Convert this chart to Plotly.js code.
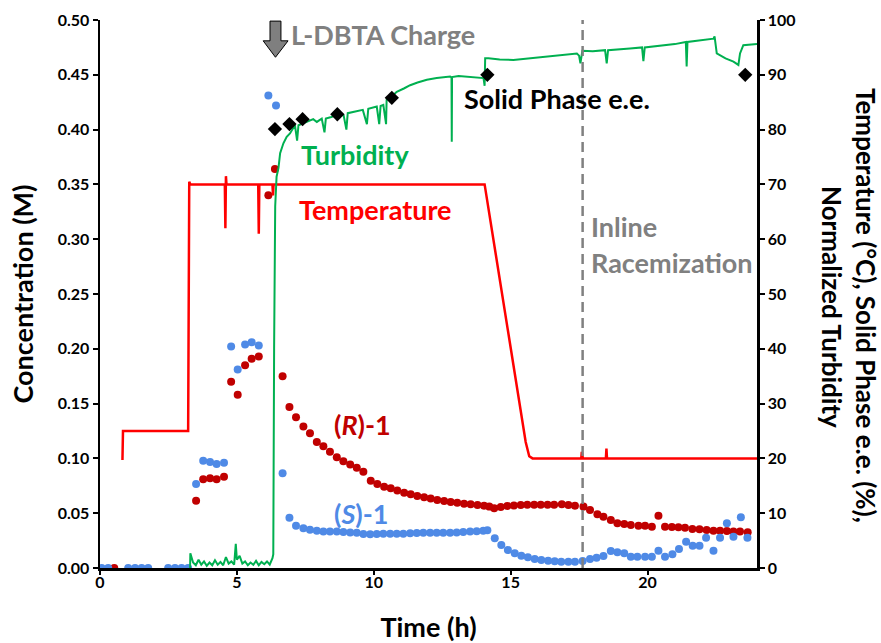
<!DOCTYPE html>
<html>
<head>
<meta charset="utf-8">
<script src="https://cdn.plot.ly/plotly-3.0.1.min.js"></script>
<style>html,body{margin:0;padding:0;background:#fff;}</style>
</head>
<body>
<div id="chart" style="width:881px;height:643px;"></div>
<script>
// ---- Data ----
const rTime = [0.52, 3.51, 3.77, 4.02, 4.26, 4.53, 4.79, 5.03, 5.30, 5.54, 5.80, 6.15, 6.39, 6.67, 6.92, 7.16, 7.43, 7.67, 7.92, 8.16, 8.40, 8.65, 8.89, 9.14, 9.38, 9.62, 9.89, 10.13, 10.38, 10.62, 10.86, 11.11, 11.35, 11.59, 11.84, 12.08, 12.32, 12.57, 12.81, 13.05, 13.30, 13.54, 13.79, 14.03, 14.22, 14.40, 14.64, 14.88, 15.12, 15.37, 15.61, 15.86, 16.10, 16.35, 16.59, 16.87, 17.11, 17.35, 17.66, 17.90, 18.17, 18.39, 18.66, 18.90, 19.15, 19.39, 19.67, 19.91, 20.16, 20.40, 20.64, 20.89, 21.13, 21.37, 21.64, 21.90, 22.16, 22.41, 22.65, 22.90, 23.14, 23.38, 23.66];
const rConc = [0.000, 0.0614, 0.0809, 0.0818, 0.0809, 0.0833, 0.170, 0.158, 0.185, 0.191, 0.193, 0.340, 0.364, 0.175, 0.147, 0.1375, 0.129, 0.123, 0.115, 0.111, 0.106, 0.101, 0.0975, 0.0945, 0.0915, 0.0879, 0.0797, 0.0766, 0.0742, 0.0727, 0.0706, 0.0687, 0.0672, 0.0657, 0.0645, 0.0633, 0.0620, 0.0611, 0.0602, 0.0596, 0.0587, 0.0581, 0.0575, 0.0569, 0.0560, 0.0545, 0.0557, 0.0566, 0.0570, 0.0574, 0.0577, 0.0578, 0.0578, 0.0578, 0.0578, 0.0581, 0.0575, 0.0569, 0.0560, 0.0529, 0.0490, 0.0468, 0.0438, 0.0408, 0.0401, 0.0392, 0.0386, 0.0386, 0.0377, 0.0477, 0.0377, 0.0374, 0.0371, 0.0368, 0.0356, 0.0353, 0.0347, 0.0341, 0.0341, 0.0338, 0.0332, 0.0332, 0.0326];

const sTime = [0.06, 0.30, 1.03, 1.28, 1.52, 1.76, 2.49, 2.74, 2.98, 3.22, 3.51, 3.77, 4.02, 4.26, 4.53, 4.79, 5.03, 5.30, 5.54, 5.80, 6.15, 6.43, 6.67, 6.92, 7.16, 7.43, 7.67, 7.92, 8.16, 8.40, 8.65, 8.89, 9.14, 9.38, 9.62, 9.87, 10.11, 10.35, 10.60, 10.84, 11.08, 11.33, 11.57, 11.81, 12.06, 12.30, 12.54, 12.79, 13.03, 13.27, 13.52, 13.76, 14.00, 14.15, 14.42, 14.66, 14.90, 15.15, 15.39, 15.63, 15.88, 16.12, 16.37, 16.61, 16.85, 17.11, 17.35, 17.63, 17.90, 18.14, 18.39, 18.66, 18.90, 19.15, 19.39, 19.63, 19.91, 20.16, 20.40, 20.64, 20.91, 21.15, 21.41, 21.65, 21.90, 22.14, 22.41, 22.65, 22.90, 23.14, 23.41, 23.65];
const sConc = [0, 0, 0, 0, 0, 0, 0, 0, 0, 0, 0.0766, 0.0979, 0.0967, 0.0949, 0.0961, 0.202, 0.181, 0.204, 0.206, 0.203, 0.431, 0.422, 0.0864, 0.0459, 0.0386, 0.0362, 0.0350, 0.0340, 0.0332, 0.0332, 0.0332, 0.0328, 0.0325, 0.0322, 0.0310, 0.0307, 0.0310, 0.0313, 0.0313, 0.0313, 0.0313, 0.0316, 0.0319, 0.0322, 0.0322, 0.0322, 0.0322, 0.0322, 0.0325, 0.0328, 0.0332, 0.0335, 0.0341, 0.0345, 0.0271, 0.0210, 0.0164, 0.0134, 0.0112, 0.0097, 0.0082, 0.0073, 0.0067, 0.0061, 0.0058, 0.0058, 0.0058, 0.0064, 0.0082, 0.0094, 0.0109, 0.0155, 0.0143, 0.0134, 0.0103, 0.0103, 0.0103, 0.0103, 0.0158, 0.0103, 0.0125, 0.0173, 0.0240, 0.0204, 0.0204, 0.0277, 0.0158, 0.0277, 0.0408, 0.0286, 0.0462, 0.0277];

const tempTime = [0.82, 0.84, 3.22, 3.24, 3.26, 3.30, 4.00, 4.56, 4.58, 4.60, 4.62, 4.64, 5.00, 5.78, 5.80, 5.82, 6.30, 6.32, 6.34, 14.05, 15.55, 15.68, 15.80, 17.58, 17.60, 17.62, 17.64, 18.48, 18.50, 18.52, 24.0];
const tempVal  = [19.7, 25.0, 25.0, 68.5, 70.5, 70.0, 70.0, 70.0, 62.0, 71.5, 70.0, 70.0, 70.0, 70.0, 61.0, 70.0, 70.0, 68.0, 70.0, 70.0, 23.0, 20.4, 20.0, 20.0, 21.2, 20.0, 20.0, 20.0, 21.8, 20.0, 20.0];

const turbTime = [3.29, 3.30, 3.40, 3.50, 3.60, 3.70, 3.80, 3.90, 4.00, 4.10, 4.20, 4.30, 4.40, 4.50, 4.60, 4.70, 4.80, 4.90, 4.96, 5.00, 5.10, 5.20, 5.30, 5.40, 5.50, 5.60, 5.70, 5.80, 5.90, 6.00, 6.10, 6.20, 6.30, 6.33, 6.36, 6.40, 6.45, 6.52, 6.58, 6.70, 6.82, 6.94, 7.12, 7.20, 7.25, 7.43, 7.60, 7.79, 7.92, 8.10, 8.20, 8.25, 8.45, 8.65, 8.90, 9.00, 9.05, 9.38, 9.60, 9.75, 9.80, 10.11, 10.20, 10.25, 10.35, 10.45, 10.47, 10.65, 10.84, 11.10, 11.33, 11.60, 11.94, 12.30, 12.79, 12.84, 12.85, 12.86, 13.10, 13.40, 13.70, 14.01, 14.05, 14.07, 14.19, 14.60, 15.10, 15.70, 16.32, 16.90, 17.42, 17.50, 17.55, 17.62, 18.00, 18.45, 18.51, 18.56, 19.00, 19.36, 19.80, 19.85, 19.90, 20.58, 21.00, 21.40, 21.43, 21.46, 22.00, 22.41, 22.45, 22.50, 22.53, 22.85, 23.14, 23.32, 23.38, 23.50, 23.93, 24.00];
const turbVal  = [0.0, 2.7, 1.0, 0.5, 1.5, 0.6, 1.2, 0.4, 1.0, 0.5, 1.4, 0.6, 1.1, 0.5, 2.0, 0.8, 1.2, 0.6, 4.4, 1.5, 2.2, 0.8, 1.2, 0.5, 1.0, 0.6, 1.3, 0.5, 1.1, 0.7, 1.2, 0.6, 1.8, 2.5, 40.0, 66.0, 71.4, 73.0, 75.7, 77.5, 78.7, 79.3, 80.8, 78.0, 80.8, 81.2, 81.5, 81.9, 81.4, 82.0, 79.5, 82.0, 82.3, 82.7, 82.6, 80.0, 83.0, 83.3, 83.6, 81.0, 83.8, 84.2, 81.0, 84.3, 84.5, 81.0, 85.4, 86.0, 86.9, 87.5, 88.1, 88.6, 89.1, 89.4, 89.7, 89.5, 77.8, 89.6, 89.8, 89.7, 89.6, 89.4, 88.0, 93.0, 93.0, 92.8, 92.7, 93.0, 93.3, 93.6, 93.9, 93.5, 92.1, 94.4, 94.3, 94.5, 92.1, 94.5, 94.6, 94.8, 95.0, 92.5, 95.0, 95.3, 95.6, 96.0, 91.5, 96.0, 96.3, 96.6, 97.0, 94.5, 93.9, 93.0, 92.4, 91.8, 93.9, 95.4, 95.6, 95.6];

const eeTime = [6.39, 6.92, 7.40, 8.67, 10.66, 14.15, 23.57];
const eeVal  = [80.1, 81.0, 81.9, 82.8, 85.8, 90.0, 90.0];

const xTicks = [0, 5, 10, 15, 20];

// ---- Styles ----
const FONT = 'Lato, "Open Sans", "DejaVu Sans", sans-serif';
const RED_DOT = '#C00000';
const BLUE_DOT = '#4F8AE6';
const TEMP_RED = '#FF0000';
const TURB_GREEN = '#00B050';
const GRAY = '#808080';

const traces = [
  { x: tempTime, y: tempVal, yaxis: 'y2', type: 'scatter', mode: 'lines',
    line: { color: TEMP_RED, width: 2.5 }, name: 'Temperature', hoverinfo: 'skip' },
  { x: turbTime, y: turbVal, yaxis: 'y2', type: 'scatter', mode: 'lines',
    line: { color: TURB_GREEN, width: 2 }, name: 'Turbidity', hoverinfo: 'skip' },
  { x: rTime, y: rConc, type: 'scatter', mode: 'markers',
    marker: { color: RED_DOT, size: 8 }, name: '(R)-1' },
  { x: sTime, y: sConc, type: 'scatter', mode: 'markers',
    marker: { color: BLUE_DOT, size: 8 }, name: '(S)-1' },
  { x: eeTime, y: eeVal, yaxis: 'y2', type: 'scatter', mode: 'markers',
    marker: { color: '#000', size: 11, symbol: 'diamond' }, name: 'Solid Phase e.e.' }
];

const axisCommon = {
  showline: true, linecolor: '#000', linewidth: 2.5,
  ticks: 'outside', ticklen: 5, tickwidth: 2, tickcolor: '#000',
  showgrid: false, zeroline: false,
  tickfont: { family: FONT, size: 16, color: '#000', weight: 'bold' }
};

function label(text, x, y, color, extra) {
  return Object.assign({
    text: text, x: x, y: y, xref: 'x', yref: 'y', xanchor: 'left', yanchor: 'middle',
    showarrow: false, font: { family: FONT, size: 27, color: color, weight: 'bold' }
  }, extra || {});
}

function sideTitle(text, xpx, ypx) {
  return { text: text, xref: 'paper', yref: 'paper',
    x: (xpx - 100) / 657, y: (568 - ypx) / 548, xanchor: 'center', yanchor: 'middle',
    textangle: 90, showarrow: false,
    font: { family: FONT, size: 26, color: '#000', weight: 'bold' } };
}

const layout = {
  width: 881, height: 643,
  margin: { l: 100, r: 124, t: 20, b: 75 },
  paper_bgcolor: '#fff', plot_bgcolor: '#fff',
  showlegend: false,
  font: { family: FONT },
  xaxis: Object.assign({}, axisCommon, {
    range: [0, 24], tickvals: xTicks, ticktext: xTicks.map(String), ticklen: 4,
    ticklabelstandoff: -6,
    title: { text: 'Time (h)', font: { family: FONT, size: 27, color: '#000', weight: 'bold' }, standoff: 30 }
  }),
  yaxis: Object.assign({}, axisCommon, {
    range: [0, 0.5], dtick: 0.05, tickformat: '.2f',
    title: { text: 'Concentration (M)', font: { family: FONT, size: 27, color: '#000', weight: 'bold' }, standoff: 16 }
  }),
  yaxis2: Object.assign({}, axisCommon, {
    range: [0, 100], dtick: 10, overlaying: 'y', side: 'right', anchor: 'x'
  }),
  shapes: [
    { type: 'line', xref: 'x', yref: 'paper', x0: 17.63, x1: 17.63, y0: 0, y1: 1,
      line: { color: GRAY, width: 2.5, dash: '10px,6px' } },
    { type: 'path', xref: 'x', yref: 'y2',
      path: 'M 6.21,99.8 L 6.61,99.8 L 6.61,96.2 L 6.87,96.2 L 6.41,93.2 L 5.96,96.2 L 6.21,96.2 Z',
      fillcolor: '#7F7F7F', line: { color: '#000', width: 1 } }
  ],
  annotations: [
    label('L-DBTA Charge', 6.90, 0.487, GRAY),
    label('Turbidity', 7.28, 0.377, TURB_GREEN),
    label('Temperature', 7.20, 0.327, TEMP_RED),
    label('Solid Phase e.e.', 13.22, 0.428, '#000'),
    label('(<i>R</i>)-1', 8.48, 0.1305, RED_DOT),
    label('(<i>S</i>)-1', 8.48, 0.0493, BLUE_DOT),
    label('Inline', 17.85, 0.312, GRAY),
    label('Racemization', 17.85, 0.279, GRAY),
    sideTitle('Temperature (°C), Solid Phase e.e. (%),', 866, 305),
    sideTitle('Normalized Turbidity', 832, 307)
  ]
};

Plotly.newPlot('chart', traces, layout, { displayModeBar: false, staticPlot: true });
</script>
</body>
</html>
